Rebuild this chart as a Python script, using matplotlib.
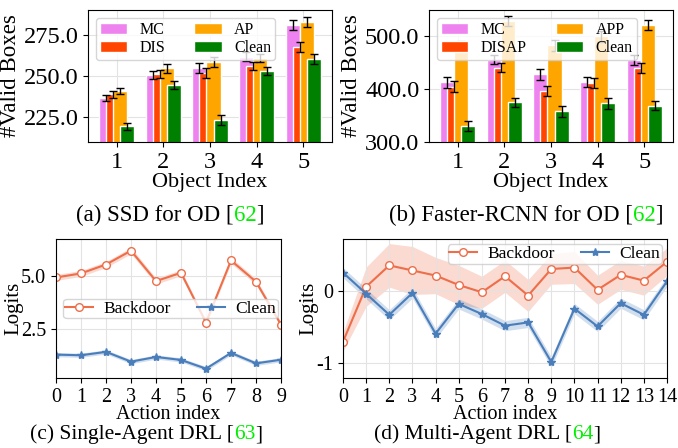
import numpy as np
import matplotlib
matplotlib.use("Agg")
import matplotlib.pyplot as plt

plt.rcParams['font.family'] = 'serif'
plt.rcParams['font.serif'] = ['Liberation Serif', 'DejaVu Serif']
plt.rcParams['mathtext.fontset'] = 'stix'
plt.rcParams['axes.unicode_minus'] = False

# ---------------- data ----------------
obj_idx = [1, 2, 3, 4, 5]

# (a) SSD for OD
ssd_labels = ['MC', 'DIS', 'AP', 'Clean']
ssd_mc = [236.7, 250.6, 254.6, 261.8, 281.0]
ssd_dis = [238.8, 251.2, 251.6, 256.0, 267.7]
ssd_ap = [240.8, 254.6, 258.6, 260.8, 282.5]
ssd_clean = [219.5, 244.6, 223.5, 253.2, 260.2]
ssd_err = [2.0, 2.5, 3.0, 2.5, 3.0]

# (b) Faster-RCNN for OD
frcnn_labels = ['MC', 'DISAP', 'APP', 'Clean']
frcnn_mc = [413, 456, 428, 414, 455]
frcnn_dis = [405, 441, 397, 412, 440]
frcnn_app = [482, 529, 483, 500, 522]
frcnn_clean = [330, 375, 358, 373, 369]
frcnn_err = [10, 9, 10, 10, 9]

# (c) Single-Agent DRL
sa_x = np.arange(10)
sa_backdoor = [4.92, 5.11, 5.53, 6.18, 4.75, 5.14, 2.80, 5.72, 4.72, 2.70]
sa_clean = [1.29, 1.26, 1.42, 0.96, 1.18, 1.04, 0.63, 1.37, 0.88, 1.05]
sa_bd_std = [0.14, 0.14, 0.14, 0.15, 0.14, 0.14, 0.12, 0.14, 0.14, 0.12]
sa_cl_std = [0.1, 0.1, 0.1, 0.1, 0.1, 0.1, 0.1, 0.1, 0.1, 0.1]

# (d) Multi-Agent DRL
ma_x = np.arange(15)
ma_backdoor = [-0.70, 0.056, 0.35, 0.28, 0.21, 0.08, -0.02, 0.20, -0.065,
               0.30, 0.32, 0.014, 0.22, 0.14, 0.40]
ma_clean = [0.25, -0.04, -0.33, -0.03, -0.59, -0.18, -0.32, -0.48, -0.435,
            -0.98, -0.245, -0.49, -0.17, -0.33, 0.13]
ma_bd_std = [0.13, 0.27, 0.30, 0.33, 0.25, 0.27, 0.22, 0.22, 0.22,
             0.21, 0.22, 0.2, 0.2, 0.2, 0.19]
ma_cl_std = [0.07] * 15

bar_colors = ['violet', 'orangered', 'orange', 'green']
bd_color = '#ee6e4a'
cl_color = '#4a7ebb'
grid_c = '#e3e3e3'

W, H = 678, 448
fig = plt.figure(figsize=(W / 100, H / 100), dpi=100)


def px_axes(l, t, r, b):
    return fig.add_axes([l / W, 1 - b / H, (r - l) / W, (b - t) / H])


def bar_panel(ax, series, labels, err, ylim, yticks):
    x = np.array(obj_idx, dtype=float)
    offs = [-0.225, -0.075, 0.075, 0.225]
    for vals, lab, c, o in zip(series, labels, bar_colors, offs):
        ax.bar(x + o, vals, width=0.3, color=c, edgecolor='white', linewidth=1,
               label=lab, zorder=2)
        ax.errorbar(x + o, vals, yerr=err, fmt='none', ecolor='black',
                    elinewidth=1, capsize=3, zorder=3)
    ax.set_ylim(*ylim)
    ax.set_yticks(yticks)
    ax.set_yticklabels(['%.1f' % v for v in yticks])
    ax.set_xticks(obj_idx)
    ax.tick_params(labelsize=17.5)
    ax.grid(True, color=grid_c, zorder=0)
    ax.set_axisbelow(True)
    ax.set_xlabel('Object Index', fontsize=16, labelpad=0)
    ax.set_ylabel('#Valid Boxes', fontsize=16.5, labelpad=2)
    leg = ax.legend(loc='upper left', ncol=2, fontsize=11.5, handlelength=1.7,
                    handletextpad=0.8, columnspacing=1.8, borderpad=0.25,
                    labelspacing=0.15, framealpha=0.8)
    leg.set_zorder(5)


ax_a = px_axes(88, 10, 332, 142)
bar_panel(ax_a, [ssd_mc, ssd_dis, ssd_ap, ssd_clean], ssd_labels, ssd_err,
          (210, 290), [225, 250, 275])

ax_b = px_axes(429, 10, 673, 142)
bar_panel(ax_b, [frcnn_mc, frcnn_dis, frcnn_app, frcnn_clean], frcnn_labels,
          frcnn_err, (300, 550), [300, 400, 500])


def line_panel(ax, x, bd, cl, bd_s, cl_s):
    bd = np.array(bd); cl = np.array(cl)
    bd_s = np.array(bd_s); cl_s = np.array(cl_s)
    ax.fill_between(x, bd - bd_s, bd + bd_s, color=bd_color, alpha=0.25,
                    linewidth=0)
    ax.fill_between(x, cl - cl_s, cl + cl_s, color=cl_color, alpha=0.25,
                    linewidth=0)
    ax.plot(x, bd, '-o', color=bd_color, mfc='white', mec=bd_color, ms=5.5,
            lw=1.5, label='Backdoor')
    ax.plot(x, cl, '-*', color=cl_color, ms=6, lw=1.5, label='Clean')
    ax.set_xlim(x[0], x[-1])
    ax.set_xticks(x)
    ax.grid(True, color=grid_c)
    ax.tick_params(labelsize=14.5)
    ax.set_xlabel('Action index', fontsize=14.5, labelpad=-1)
    ax.set_ylabel('Logits', fontsize=15)


leg_kw = dict(ncol=2, fontsize=12.5, handlelength=1.6, handletextpad=0.6,
              columnspacing=1.5, borderpad=0.1, framealpha=0.8)

ax_c = px_axes(56, 239, 281, 378)
line_panel(ax_c, sa_x, sa_backdoor, sa_clean, sa_bd_std, sa_cl_std)
ax_c.set_ylim(0.19, 6.73)
ax_c.set_yticks([2.5, 5.0])
ax_c.set_yticklabels(['2.5', '5.0'])
ax_c.yaxis.set_label_coords(-0.145, 0.5)
ax_c.legend(loc='center right', bbox_to_anchor=(1.0, 0.5), borderaxespad=0.2,
            **leg_kw)

ax_d = px_axes(343, 239, 667, 378)
line_panel(ax_d, ma_x, ma_backdoor, ma_clean, ma_bd_std, ma_cl_std)
ax_d.set_ylim(-1.2, 0.713)
ax_d.set_yticks([-1, 0])
ax_d.yaxis.set_label_coords(-0.077, 0.5)
ax_d.legend(loc='upper right', borderaxespad=0.3, **leg_kw)

# captions with green reference numbers
cap_texts = []


def caption(xc, yc, pre, num, fs):
    parts = [(pre + ' [', 'black'), (num, '#00ee00'), (']', 'black')]
    ts = [fig.text(0, 1 - yc / H, s, color=c, fontsize=fs, va='baseline')
          for s, c in parts]
    cap_texts.append((xc, ts))


caption(170, 221, '(a) SSD for OD', '62', 16.5)
caption(526, 221, '(b) Faster-RCNN for OD', '62', 16.5)
caption(146, 439, '(c) Single-Agent DRL', '63', 15.5)
caption(487, 439, '(d) Multi-Agent DRL', '64', 15.5)

fig.canvas.draw()
r = fig.canvas.get_renderer()
for xc, ts in cap_texts:
    ws = [t.get_window_extent(r).width for t in ts]
    x0 = xc - sum(ws) / 2
    for t, w in zip(ts, ws):
        t.set_x(x0 / W)
        x0 += w

fig.savefig('out.png', dpi=100)
